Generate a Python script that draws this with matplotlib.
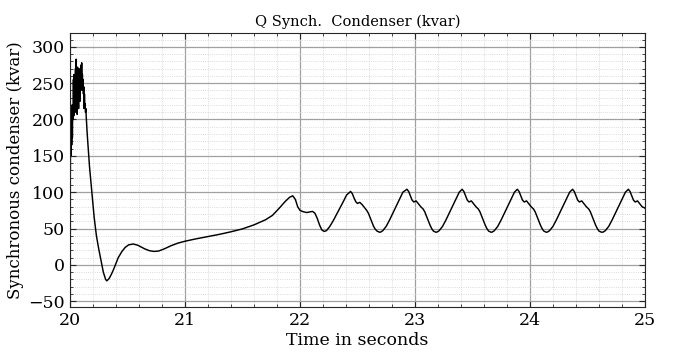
import matplotlib
matplotlib.use("Agg")
import matplotlib.pyplot as plt
from matplotlib.ticker import MultipleLocator

# Reactive power of the synchronous condenser, kvar, against time in seconds.
# Fast switching transient just after t = 20 s
t_start = [20.000, 20.003, 20.006, 20.009, 20.012, 20.015, 20.018, 20.021, 20.024, 20.027,
           20.030, 20.033, 20.036, 20.039, 20.042, 20.045, 20.048, 20.051, 20.054, 20.057,
           20.060, 20.063, 20.066, 20.069, 20.072, 20.075, 20.078, 20.081, 20.084, 20.087,
           20.090, 20.093, 20.096, 20.099, 20.102, 20.105, 20.108, 20.111, 20.114, 20.117,
           20.120, 20.123, 20.126, 20.129, 20.132, 20.135, 20.138, 20.141]
q_start = [215, 130, 218, 150, 210, 165, 220, 175, 215, 200,
           255, 205, 262, 215, 245, 210, 270, 225, 283, 240,
           268, 207, 272, 235, 262, 215, 270, 240, 255, 225,
           268, 245, 275, 250, 278, 240, 262, 245, 255, 235,
           245, 215, 235, 218, 222, 210, 215, 205]

# Collapse, undershoot and slow recovery
t_recover = [20.150, 20.170, 20.190, 20.210, 20.230, 20.250, 20.270, 20.290, 20.310, 20.320,
             20.340, 20.360, 20.380, 20.400, 20.420, 20.450, 20.480, 20.510, 20.550, 20.590,
             20.620, 20.650, 20.690, 20.730, 20.770, 20.820, 20.880, 20.940, 21.000, 21.090,
             21.200, 21.300, 21.400, 21.500, 21.600, 21.700, 21.760, 21.820, 21.870, 21.910,
             21.937, 21.960, 21.980, 22.000, 22.030, 22.060, 22.090, 22.110, 22.130, 22.150,
             22.170, 22.190, 22.210]
q_recover = [180, 135, 100, 66, 40, 22, 6, -10, -20, -22,
             -19, -13, -6, 2, 10, 18, 24, 27.5, 28.7, 27,
             24.5, 22, 19.5, 18.5, 19, 22, 26.4, 30, 32.5, 35.6,
             39, 42, 45.5, 49.5, 55, 62, 68, 78, 87, 93,
             95, 90, 80, 75, 73, 72, 73, 73.5, 71, 64,
             55, 48, 46]

# Sustained oscillation
t_osc = [22.230, 22.260, 22.290, 22.320, 22.350, 22.380, 22.405, 22.440,
         22.455, 22.470, 22.485, 22.500, 22.520, 22.540, 22.560, 22.580, 22.595, 22.610,
         22.625, 22.640, 22.655, 22.670, 22.690, 22.700,
         22.720, 22.750, 22.780, 22.810, 22.840, 22.870, 22.895, 22.930,
         22.945, 22.960, 22.975, 22.990, 23.010, 23.030, 23.050, 23.070, 23.085, 23.100,
         23.115, 23.130, 23.145, 23.160, 23.180, 23.190,
         23.210, 23.240, 23.270, 23.300, 23.330, 23.360, 23.385, 23.410,
         23.425, 23.440, 23.455, 23.470, 23.490, 23.510, 23.530, 23.550, 23.565, 23.580,
         23.595, 23.610, 23.625, 23.640, 23.660, 23.670,
         23.690, 23.720, 23.750, 23.780, 23.810, 23.840, 23.865, 23.890,
         23.905, 23.920, 23.935, 23.950, 23.970, 23.990, 24.010, 24.030, 24.045, 24.060,
         24.075, 24.090, 24.105, 24.120, 24.140, 24.150,
         24.170, 24.200, 24.230, 24.260, 24.290, 24.320, 24.345, 24.370,
         24.385, 24.400, 24.415, 24.430, 24.450, 24.470, 24.490, 24.510, 24.525, 24.540,
         24.555, 24.570, 24.585, 24.600, 24.620, 24.635,
         24.655, 24.685, 24.715, 24.745, 24.775, 24.805, 24.830, 24.855,
         24.870, 24.885, 24.900, 24.915, 24.935, 24.955, 24.975, 25.000]
q_osc = [47, 53, 61, 70, 79, 88, 96, 101,
         98, 92, 87, 84.5, 86, 83, 79, 75, 71, 65,
         59, 53, 49, 46.5, 45, 45,
         47, 53, 62, 72, 82, 92, 100, 104,
         101, 95, 89, 86.5, 88, 84, 80, 77, 73, 67,
         61, 55, 50, 46.5, 45, 45,
         47, 53, 62, 72, 82, 92, 100, 104,
         101, 95, 89, 86.5, 88, 84, 80, 77, 73, 67,
         61, 55, 50, 46.5, 45, 45,
         47, 53, 62, 72, 82, 92, 100, 104,
         101, 95, 89, 86.5, 88, 84, 80, 77, 73, 67,
         61, 55, 50, 46.5, 45, 45,
         47, 53, 62, 72, 82, 92, 100, 104,
         101, 95, 89, 86.5, 88, 84, 80, 77, 73, 67,
         61, 55, 50, 46.5, 45, 45,
         47, 53, 62, 72, 82, 92, 100, 104,
         101, 95, 89, 86.5, 88, 84, 80, 78]

x_ticks = [20, 21, 22, 23, 24, 25]
y_ticks = [-50, 0, 50, 100, 150, 200, 250, 300]

time = t_start + t_recover + t_osc
q_sc = q_start + q_recover + q_osc

plt.rcParams["font.family"] = ["DejaVu Serif"]

fig = plt.figure(figsize=(6.78, 3.56), dpi=100)
ax = fig.add_axes([0.1032, 0.1376, 0.8481, 0.7697])

ax.plot(time, q_sc, color="black", linewidth=1.05)

ax.set_xlim(20, 25)
ax.set_ylim(-58, 319)
ax.set_xticks(x_ticks)
ax.set_yticks(y_ticks)
ax.xaxis.set_minor_locator(MultipleLocator(0.2))
ax.yaxis.set_minor_locator(MultipleLocator(10))

ax.grid(which="major", color="#a0a0a0", linewidth=0.9, linestyle="-")
ax.grid(which="minor", color="#cfcfcf", linewidth=0.6, linestyle=":")
ax.set_axisbelow(True)

ax.tick_params(which="both", direction="in", top=True, right=True, colors="#262626",
               labelcolor="black")
ax.tick_params(which="major", length=4, labelsize=12.5)
ax.tick_params(which="minor", length=2.5)
for s in ax.spines.values():
    s.set_color("#262626")
    s.set_linewidth(0.8)

ax.set_title("Q Synch.  Condenser (kvar)", fontsize=10.5, pad=5)
ax.set_xlabel("Time in seconds", fontsize=12.5, labelpad=2)
ax.set_ylabel("Synchronous condenser (kvar)", fontsize=12, labelpad=3)

fig.savefig("out.png", dpi=100)
